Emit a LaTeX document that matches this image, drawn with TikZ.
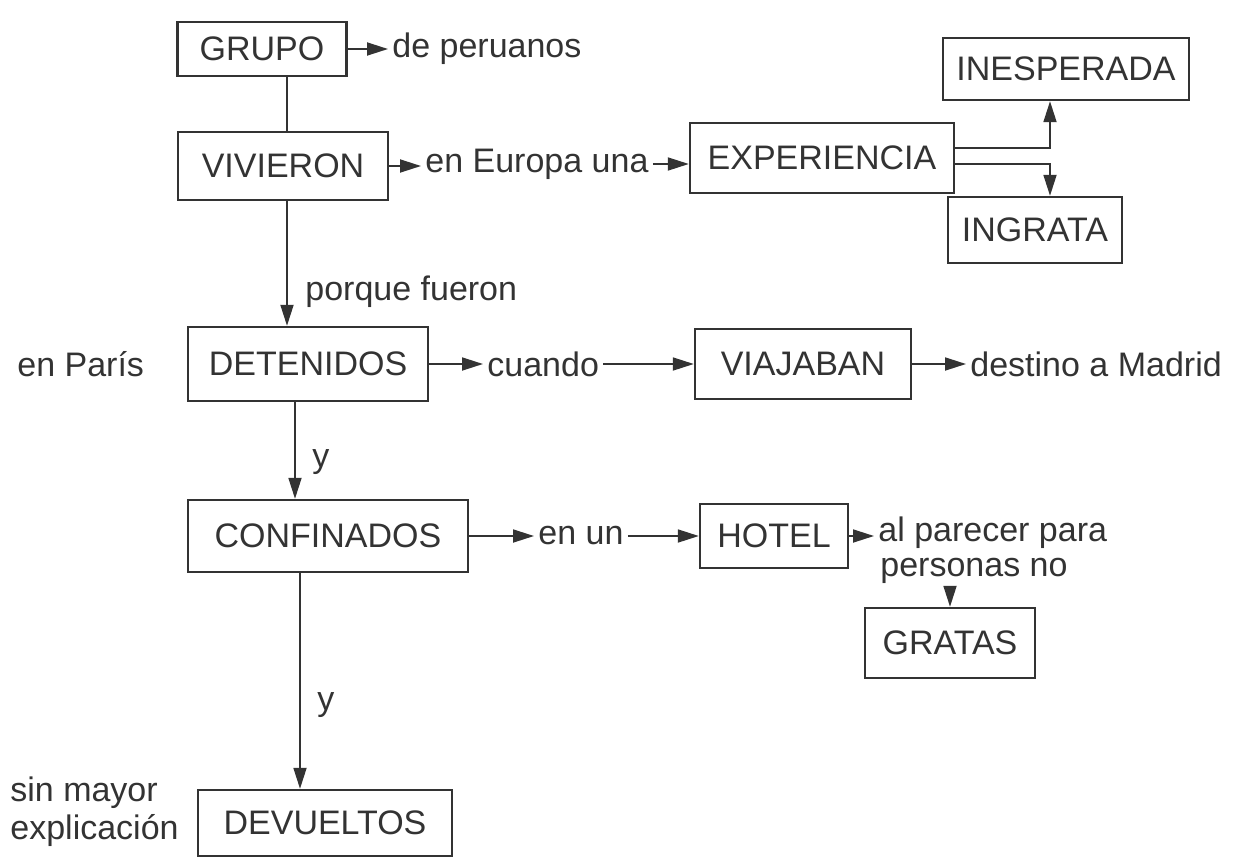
\documentclass[tikz,border=0pt]{standalone}
\usepackage{fontspec}
\setmainfont{Liberation Sans}
\usetikzlibrary{arrows.meta}
\definecolor{ink}{HTML}{333333}
\tikzset{
  box/.style={draw=ink, line width=1.2pt, text=ink, inner sep=0pt},
  txt/.style={text=ink, anchor=west, inner sep=2pt},
  arr/.style={draw=ink, line width=0.9pt, -{Triangle[length=10.5pt,width=6.5pt]}},
  lin/.style={draw=ink, line width=0.9pt},
}
\begin{document}
\begin{tikzpicture}[x=0.5pt, y=-0.5pt, font=\fontsize{17}{19}\selectfont]
\useasboundingbox (0,0) rectangle (1241,867);
% columns of the vertical connectors
\coordinate (colA) at (287,0);
\coordinate (colB) at (295,0);
\coordinate (colC) at (300,0);
\coordinate (split) at (1050,0);
% boxes
\node[box, minimum width=84.5pt, minimum height=27pt] (grupo) at (262,49) {GRUPO};
\node[box, minimum width=105pt, minimum height=34pt] (vivieron) at (283,166) {VIVIERON};
\node[box, minimum width=132pt, minimum height=35pt] (experiencia) at (822,158) {EXPERIENCIA};
\node[box, minimum width=123pt, minimum height=31pt] (inesperada) at (1066,69) {INESPERADA};
\node[box, minimum width=87pt, minimum height=33pt] (ingrata) at (1035,230) {INGRATA};
\node[box, minimum width=120pt, minimum height=37pt] (detenidos) at (308,364) {DETENIDOS};
\node[box, minimum width=108pt, minimum height=35pt] (viajaban) at (803,364) {VIAJABAN};
\node[box, minimum width=140pt, minimum height=36pt] (confinados) at (328,536) {CONFINADOS};
\node[box, minimum width=74pt, minimum height=32pt] (hotel) at (774,536) {HOTEL};
\node[box, minimum width=85pt, minimum height=35pt] (gratas) at (950,643) {GRATAS};
\node[box, minimum width=127pt, minimum height=33pt] (devueltos) at (325,823) {DEVUELTOS};
% texts
\node[txt] (peruanos) at (388,49) {de peruanos};
\node[txt] (europa) at (421,164) {en Europa una};
\node[txt] (porque) at (301,292) {porque fueron};
\node[txt] (paris) at (13,364) {en París};
\node[txt] (cuando) at (483,364) {cuando};
\node[txt] (madrid) at (966,364) {destino a Madrid};
\node[txt] (y1) at (308,462) {y};
\node[txt] (enun) at (534,536) {en un};
\node[txt] (parecer) at (874,533) {al parecer para};
\node[txt] (personas) at (876,571) {personas no};
\node[txt] (y2) at (313,705) {y};
\node[txt, align=left] (explic) at (6,812) {sin mayor\\explicación};
% connectors
\draw[arr](grupo.east) -- (grupo.east -| peruanos.west);
\draw[lin](grupo.south -| colA) -- (vivieron.north -| colA);
\draw[arr](vivieron.east) -- (vivieron.east -| europa.west);
\draw[arr](europa.east) -- (europa.east -| experiencia.west);
\draw[arr]([yshift=5pt]experiencia.east) -| (split |- inesperada.south);
\draw[arr]([yshift=-3pt]experiencia.east) -| (split |- ingrata.north);
\draw[arr](vivieron.south -| colA) -- (detenidos.north -| colA);
\draw[arr](detenidos.east) -- (detenidos.east -| cuando.west);
\draw[arr](cuando.east) -- (cuando.east -| viajaban.west);
\draw[arr](viajaban.east) -- (viajaban.east -| madrid.west);
\draw[arr](detenidos.south -| colB) -- (confinados.north -| colB);
\draw[arr](confinados.east) -- (confinados.east -| enun.west);
\draw[arr](enun.east) -- (enun.east -| hotel.west);
\draw[arr](hotel.east) -- (hotel.east -| parecer.west);
\draw[arr](gratas.north |- personas.south) -- (gratas.north);
\draw[arr](confinados.south -| colC) -- (devueltos.north -| colC);
\end{tikzpicture}
\end{document}
